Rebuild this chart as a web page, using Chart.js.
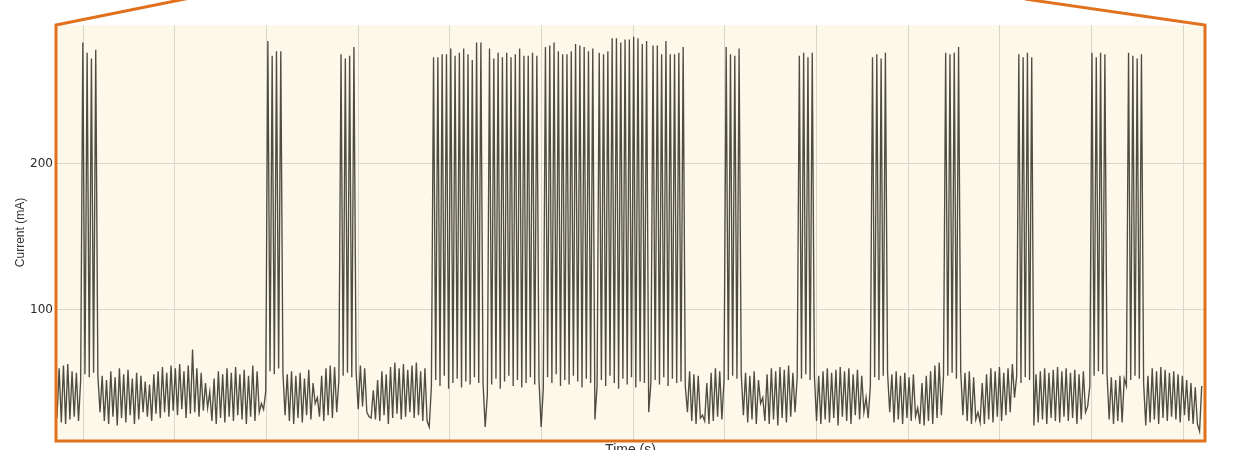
<!DOCTYPE html>
<html>
<head>
<meta charset="utf-8">
<script src="https://cdn.jsdelivr.net/npm/chart.js@4.4.1/dist/chart.umd.min.js"></script>
<style>
  html, body { margin: 0; padding: 0; overflow: hidden; background: #fff; }
  canvas { display: block; }
</style>
</head>
<body>
<canvas id="trace" width="1251" height="470"></canvas>
<script>
// sampled current trace (mA), one value per sample
const startTime = 27.16;        // s, first sample
const sampleInterval = 0.2347;  // s
const endTime = 152.27;
const gridTimes = [30, 40, 50, 60, 70, 80, 90, 100, 110, 120, 130, 140, 150];
const currentTicks = [100, 200];

const current = [
  // quiet
  26, 60, 23, 62, 22, 63, 25, 58, 27, 57, 24, 52,
  // burst
  283, 56, 276, 54, 272, 57, 278, 55, 30,
  // quiet
  55, 24, 52, 22, 58, 27, 54, 21, 60, 26,
  56, 23, 59, 28, 53, 22, 57, 25, 55, 30,
  51, 27, 49, 24, 56, 29, 58, 26, 61, 30,
  57, 27, 62, 31, 60, 28, 63, 32, 58, 26,
  62, 29, 73, 30, 60, 27, 57, 31, 50, 33,
  44, 24, 53, 22, 58, 26, 56, 23, 60, 27,
  57, 24, 61, 28, 56, 25, 59, 22, 55, 27,
  62, 24, 58, 30, 36, 32, 44,
  // burst
  284, 58, 274, 56, 277, 60, 277, 57,
  // quiet
  28, 56, 24, 58, 22, 55, 26, 57, 23, 53,
  28, 59, 25, 50, 36, 40, 27, 55, 24, 60,
  28, 62, 26, 61, 30, 52,
  // burst
  275, 55, 272, 57, 274, 54, 280, 58,
  // quiet
  32, 62, 34, 60, 30, 27, 26, 45, 25, 52,
  24, 58, 28, 56, 22, 61, 26, 64, 29, 60,
  25, 63, 27, 59, 30, 62, 26, 64, 28, 58,
  24, 60, 24, 20, 48,
  // long burst
  273, 52, 273, 48, 275, 55, 275, 46, 279, 50, 274, 53, 276, 47, 279, 51, 275, 49, 271, 54, 283, 50, 283,
  50, 20, 42,
  279, 49, 272, 53, 276, 46, 273, 51, 276, 55, 273, 48, 275, 52, 279, 47, 274, 50, 274, 54, 276, 49, 274,
  52, 20, 46,
  280, 54, 281, 50, 283, 56, 277, 48, 275, 52, 275, 49, 277, 55, 282, 51, 281, 47, 280, 53, 277, 50, 279,
  25, 48,
  276, 52, 275, 48, 277, 55, 286, 50, 286, 46, 283, 53, 285, 49, 285, 54, 287, 47, 286, 51, 282, 50, 284,
  30, 50,
  281, 52, 281, 49, 275, 54, 284, 48, 275, 53, 275, 50, 276, 51, 280,
  48,
  // quiet
  30, 58, 24, 56, 22, 55, 26, 28, 24, 50,
  22, 57, 24, 60, 27, 58, 25, 52,
  // burst
  280, 52, 275, 55, 274, 53, 279, 56,
  // quiet
  28, 57, 23, 55, 25, 58, 22, 52, 36, 40,
  24, 56, 22, 60, 25, 58, 21, 61, 26, 59,
  23, 62, 27, 57, 30, 54,
  // burst
  274, 53, 276, 56, 273, 52, 276, 55,
  // quiet
  24, 55, 22, 58, 25, 60, 23, 57, 26, 59,
  21, 61, 27, 58, 24, 60, 22, 56, 28, 59,
  25, 55, 30, 40, 26, 48,
  // burst
  273, 54, 275, 52, 272, 55, 276, 57,
  // quiet
  30, 56, 23, 58, 25, 55, 22, 57, 26, 54,
  24, 56, 27, 33, 22, 50, 21, 55, 24, 58,
  22, 62, 26, 64, 28, 55,
  // burst
  276, 55, 275, 57, 276, 53, 280, 58,
  // quiet
  28, 57, 24, 58, 22, 54, 25, 30, 23, 50,
  22, 56, 25, 60, 23, 58, 27, 61, 24, 57,
  28, 60, 30, 63, 40, 55,
  // burst
  275, 50, 273, 54, 276, 52, 273,
  // quiet
  21, 56, 23, 58, 25, 60, 22, 57, 26, 59,
  24, 61, 23, 58, 27, 60, 24, 57, 26, 59,
  22, 56, 25, 58, 30, 34, 48,
  // burst
  276, 55, 273, 58, 276, 56, 275,
  // quiet
  56, 25, 54, 22, 52, 24, 55, 23, 53, 48,
  // burst
  276, 52, 274, 55, 272, 53, 275, 50,
  // quiet
  21, 55, 23, 60, 25, 58, 22, 61, 26, 59,
  24, 57, 27, 58, 25, 56, 23, 55, 28, 52,
  24, 50, 22, 47, 22, 17, 48
];

const points = current.map((v, i) => ({ x: startTime + i * sampleInterval, y: v }));

// beige plot background + orange callout frame
const calloutFrame = {
  id: 'calloutFrame',
  beforeDraw(chart) {
    const { ctx, chartArea: a } = chart;
    ctx.save();
    ctx.fillStyle = '#fdf9ea';
    ctx.fillRect(a.left, a.top, a.right - a.left, a.bottom - a.top);
    ctx.restore();
  },
  afterDraw(chart) {
    const { ctx, chartArea: a } = chart;
    ctx.save();
    ctx.strokeStyle = '#e2711d';
    ctx.lineWidth = 3;
    ctx.lineJoin = 'miter';
    ctx.beginPath();
    ctx.moveTo(a.left - 1 + 135, a.top - 27.2);
    ctx.lineTo(a.left - 1, a.top);
    ctx.lineTo(a.left - 1, a.bottom + 1);
    ctx.lineTo(a.right + 1, a.bottom + 1);
    ctx.lineTo(a.right + 1, a.top);
    ctx.lineTo(a.right + 1 - 180, a.top - 25.9);
    ctx.stroke();
    ctx.restore();
  }
};

new Chart(document.getElementById('trace'), {
  type: 'line',
  data: {
    datasets: [{
      data: points,
      borderColor: 'rgba(48, 46, 36, 0.85)',
      borderWidth: 1.35,
      pointRadius: 0,
      tension: 0,
      fill: false
    }]
  },
  options: {
    responsive: false,
    animation: false,
    layout: { padding: { top: 25, right: 47, bottom: 0, left: 13 } },
    plugins: {
      legend: { display: false },
      tooltip: { enabled: false }
    },
    scales: {
      x: {
        type: 'linear',
        min: startTime,
        max: endTime,
        afterBuildTicks: axis => { axis.ticks = gridTimes.map(v => ({ value: v })); },
        afterFit: axis => { axis.height = 30; },
        ticks: { display: false },
        grid: { color: '#d9d7ca', lineWidth: 1, drawTicks: false },
        border: { display: false },
        title: {
          display: true,
          text: 'Time (s)',
          color: '#333',
          font: { family: 'Liberation Sans', size: 14 },
          padding: { top: 0, bottom: 11 }
        }
      },
      y: {
        min: 11,
        max: 295,
        afterBuildTicks: axis => { axis.ticks = currentTicks.map(v => ({ value: v })); },
        afterFit: axis => { axis.width = 44; },
        ticks: {
          color: '#2a2a2a',
          padding: 4,
          font: { family: 'DejaVu Sans', size: 12 }
        },
        grid: { color: '#d9d7ca', lineWidth: 1, drawTicks: false },
        border: { display: false },
        title: {
          display: true,
          text: 'Current (mA)',
          color: '#333',
          font: { family: 'Liberation Sans', size: 12 },
          padding: 0
        }
      }
    }
  },
  plugins: [calloutFrame]
});
</script>
</body>
</html>
